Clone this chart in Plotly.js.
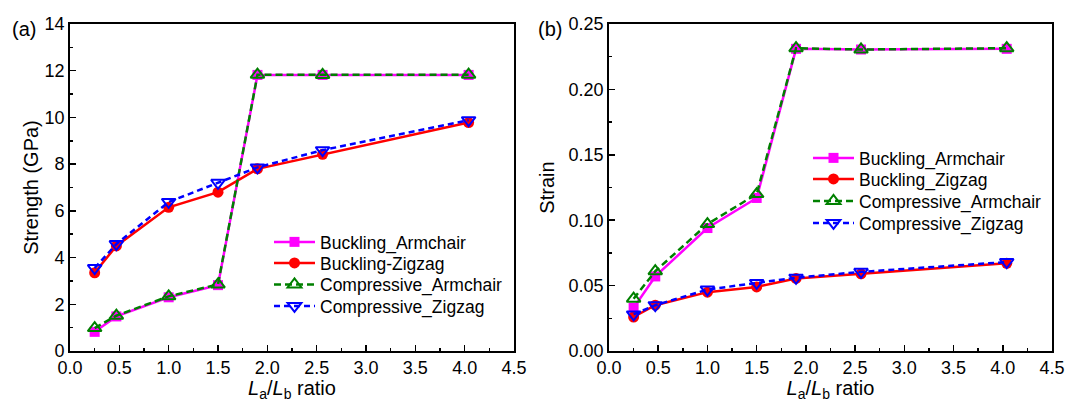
<!DOCTYPE html>
<html>
<head>
<meta charset="utf-8">
<script src="https://cdn.plot.ly/plotly-3.0.1.min.js"></script>
<style>
html,body{margin:0;padding:0;background:#fff;}
#chart{width:1067px;height:402px;}
</style>
</head>
<body>
<div id="chart"></div>
<script>
// ---- data ----
const ratio = [0.25, 0.47, 1.0, 1.5, 1.9, 2.56, 4.04];

// (a) Strength (GPa)
const strengthBucklingArmchair    = [0.82, 1.48, 2.30, 2.82, 11.82, 11.82, 11.82];
const strengthBucklingZigzag      = [3.35, 4.50, 6.15, 6.80, 7.80, 8.42, 9.78];
const strengthCompressiveArmchair = [0.98, 1.51, 2.34, 2.85, 11.83, 11.82, 11.83];
const strengthCompressiveZigzag   = [3.55, 4.58, 6.38, 7.20, 7.86, 8.60, 9.88];

// (b) Strain
const strainBucklingArmchair    = [0.033, 0.057, 0.094, 0.117, 0.231, 0.2305, 0.231];
const strainBucklingZigzag      = [0.026, 0.035, 0.045, 0.049, 0.0555, 0.059, 0.067];
const strainCompressiveArmchair = [0.040, 0.061, 0.097, 0.120, 0.2315, 0.2305, 0.2315];
const strainCompressiveZigzag   = [0.028, 0.035, 0.047, 0.052, 0.056, 0.0605, 0.068];

const namesA = ["Buckling_Armchair", "Buckling-Zigzag", "Compressive_Armchair", "Compressive_Zigzag"];
const namesB = ["Buckling_Armchair", "Buckling_Zigzag", "Compressive_Armchair", "Compressive_Zigzag"];

// ---- styles ----
const FONT = "Liberation Sans, Arial, sans-serif";
const styles = [
  {line:{color:"#FF00FF", width:2.5, dash:"solid"}, marker:{symbol:"square", size:10, color:"#FF00FF"}},
  {line:{color:"#FF0000", width:2.5, dash:"solid"}, marker:{symbol:"circle", size:11, color:"#FF0000"}},
  {line:{color:"#008000", width:2.5, dash:"7px,4px"}, marker:{symbol:"triangle-up-open", size:12, color:"#008000", line:{width:2, color:"#008000"}}},
  {line:{color:"#0000FF", width:2.5, dash:"6px,4px"}, marker:{symbol:"triangle-down-open", size:12, color:"#0000FF", line:{width:2, color:"#0000FF"}}}
];

function mk(y, i, names, xa, ya, leg) {
  return {
    x: ratio, y: y, name: names[i], type: "scatter", mode: "lines+markers",
    xaxis: xa, yaxis: ya, legend: leg,
    line: styles[i].line, marker: styles[i].marker, cliponaxis: false
  };
}

const data = [
  mk(strengthBucklingArmchair, 0, namesA, "x", "y", "legend"),
  mk(strengthBucklingZigzag, 1, namesA, "x", "y", "legend2"),
  mk(strengthCompressiveArmchair, 2, namesA, "x", "y", "legend3"),
  mk(strengthCompressiveZigzag, 3, namesA, "x", "y", "legend4"),
  mk(strainBucklingArmchair, 0, namesB, "x2", "y2", "legend5"),
  mk(strainBucklingZigzag, 1, namesB, "x2", "y2", "legend6"),
  mk(strainCompressiveArmchair, 2, namesB, "x2", "y2", "legend7"),
  mk(strainCompressiveZigzag, 3, namesB, "x2", "y2", "legend8")
];

const W = 1067, H = 402, MT = 24, MB = 51;
const PH = H - MT - MB;
const py = (px) => 1 - (px - MT) / PH;   // pixel row -> paper y
const xTitle = "<i>L</i><sub>a</sub>/<i>L</i><sub>b</sub> ratio";

function xAxis(dom, anchor) {
  return {
    domain: dom, anchor: anchor, range: [0, 4.5], dtick: 0.5, tick0: 0,
    tickformat: ".1f", ticks: "inside", ticklen: 6, tickwidth: 1.5, tickcolor: "#000",
    minor: {ticks: "inside", dtick: 0.25, ticklen: 3, tickwidth: 1.5, tickcolor: "#000"},
    showline: true, linecolor: "#000", linewidth: 1.8, mirror: true,
    showgrid: false, zeroline: false,
    tickfont: {family: FONT, size: 18, color: "#000"},
    title: {text: xTitle, font: {family: FONT, size: 20, color: "#000"}, standoff: 16}
  };
}

function leg(xpx, ypx) {
  return {
    x: xpx / W, y: py(ypx), xanchor: "left", yanchor: "middle",
    bgcolor: "rgba(0,0,0,0)", borderwidth: 0,
    font: {family: FONT, size: 17.5, color: "#000"},
    itemwidth: 41
  };
}

const layout = {
  width: W, height: H,
  margin: {l: 0, r: 0, t: MT, b: MB},
  paper_bgcolor: "#fff", plot_bgcolor: "#fff",
  font: {family: FONT, color: "#000"},
  xaxis: xAxis([70 / W, 514 / W], "y"),
  xaxis2: xAxis([609 / W, 1052 / W], "y2"),
  yaxis: {
    anchor: "x", range: [0, 14], dtick: 2, tick0: 0,
    ticks: "inside", ticklen: 6, tickwidth: 1.5, tickcolor: "#000",
    minor: {ticks: "inside", dtick: 1, ticklen: 3, tickwidth: 1.5, tickcolor: "#000"},
    showline: true, linecolor: "#000", linewidth: 1.8, mirror: true,
    showgrid: false, zeroline: false,
    tickfont: {family: FONT, size: 18, color: "#000"},
    title: {text: "Strength (GPa)", font: {family: FONT, size: 20, color: "#000"}, standoff: 0}
  },
  yaxis2: {
    anchor: "x2", range: [0, 0.25], dtick: 0.05, tick0: 0, tickformat: ".2f",
    ticks: "inside", ticklen: 6, tickwidth: 1.5, tickcolor: "#000",
    minor: {ticks: "inside", dtick: 0.025, ticklen: 3, tickwidth: 1.5, tickcolor: "#000"},
    showline: true, linecolor: "#000", linewidth: 1.8, mirror: true,
    showgrid: false, zeroline: false,
    tickfont: {family: FONT, size: 18, color: "#000"},
    title: {text: "Strain", font: {family: FONT, size: 20, color: "#000"}, standoff: 8}
  },
  legend: leg(269, 242),
  legend2: leg(269, 263),
  legend3: leg(269, 284.5),
  legend4: leg(269, 306),
  legend5: leg(808, 158),
  legend6: leg(808, 179),
  legend7: leg(808, 201),
  legend8: leg(808, 223),
  annotations: [
    {text: "(a)", xref: "paper", yref: "paper", x: 24 / W, y: py(29), xanchor: "center", yanchor: "middle",
     showarrow: false, font: {family: FONT, size: 20, color: "#000"}},
    {text: "(b)", xref: "paper", yref: "paper", x: 550 / W, y: py(29), xanchor: "center", yanchor: "middle",
     showarrow: false, font: {family: FONT, size: 20, color: "#000"}}
  ],
  showlegend: true
};

Plotly.newPlot("chart", data, layout, {staticPlot: true, displayModeBar: false});
</script>
</body>
</html>
